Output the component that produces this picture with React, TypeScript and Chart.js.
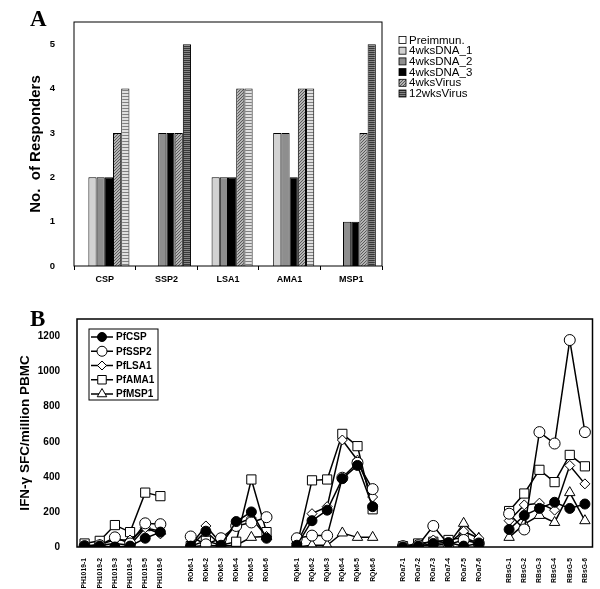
import { useEffect, useRef } from "react"
import { Chart, registerables } from "chart.js"
import { drawPoint } from "chart.js/helpers"

Chart.register(...registerables)
Chart.defaults.font.family = "'Liberation Sans', Arial, sans-serif"
Chart.defaults.color = "#000"

// panel A: number of responders per antigen
const ANTIGENS = ["CSP", "SSP2", "LSA1", "AMA1", "MSP1"]
const PREIMMUN = [0, 0, 0, 0, 0]
const DNA_1 = [2, 0, 2, 3, 0]
const DNA_2 = [2, 3, 2, 3, 1]
const DNA_3 = [2, 3, 2, 2, 1]
const VIRUS_4 = [3, 3, 4, 4, 3]
const VIRUS_12 = [4, 5, 4, 4, 5]

// panel B: IFN-g SFC per volunteer and time point ("" = gap between volunteers)
const TIMEPOINTS = [
	"PH1019-1", "PH1019-2", "PH1019-3", "PH1019-4", "PH1019-5", "PH1019-6", "",
	"ROk6-1", "ROk6-2", "ROk6-3", "ROk6-4", "ROk6-5", "ROk6-6", "",
	"RQk6-1", "RQk6-2", "RQk6-3", "RQk6-4", "RQk6-5", "RQk6-6", "",
	"ROa7-1", "ROa7-2", "ROa7-3", "ROa7-4", "ROa7-5", "ROa7-6", "",
	"RBsG-1", "RBsG-2", "RBsG-3", "RBsG-4", "RBsG-5", "RBsG-6",
]
const PF_CSP = [
	5, 5, 0, 5, 50, 85, null,
	5, 90, 10, 145, 200, 50, null,
	10, 150, 210, 390, 465, 230, null,
	0, 5, 20, 25, 5, 20, null,
	100, 180, 220, 255, 220, 245,
]
const PF_SSP2 = [
	5, 10, 55, 20, 135, 130, null,
	60, 15, 50, 120, 140, 170, null,
	50, 65, 65, 395, 480, 330, null,
	5, 10, 120, 15, 40, 20, null,
	190, 100, 655, 590, 1180, 655,
]
const PF_LSA1 = [
	5, 15, 40, 40, 110, 75, null,
	10, 120, 20, 130, 165, 60, null,
	20, 190, 230, 610, 495, 285, null,
	0, 5, 40, 20, 90, 50, null,
	150, 240, 250, 210, 465, 360,
]
const PF_AMA1 = [
	20, 35, 125, 85, 310, 290, null,
	5, 35, 10, 30, 385, 85, null,
	5, 380, 385, 645, 575, 215, null,
	5, 20, 30, 40, 55, 20, null,
	205, 305, 440, 370, 525, 460,
]
const PF_MSP1 = [
	0, 10, 20, 10, 110, 90, null,
	0, 10, 5, 10, 55, 60, null,
	0, 10, 10, 80, 55, 55, null,
	0, 10, 10, 15, 135, 50, null,
	55, 130, 180, 140, 310, 150,
]

function pattern(bg: string, fg: string, size: number, diagonal: boolean) {
	const c = document.createElement("canvas")
	c.width = size
	c.height = size
	const g = c.getContext("2d")!
	g.fillStyle = bg
	g.fillRect(0, 0, size, size)
	g.strokeStyle = fg
	g.lineWidth = 1
	g.beginPath()
	if (diagonal) {
		g.moveTo(-1, size + 1)
		g.lineTo(size + 1, -1)
	} else {
		g.moveTo(0, 0.5)
		g.lineTo(size, 0.5)
	}
	g.stroke()
	return g.createPattern(c, "repeat")!
}

const frame = {
	id: "frame",
	afterDraw(chart: any, _a: any, o: any) {
		const { ctx, chartArea: a } = chart
		ctx.save()
		ctx.strokeStyle = "#000"
		ctx.lineWidth = o.width ?? 1
		ctx.strokeRect(a.left, a.top, a.right - a.left, a.bottom - a.top)
		ctx.restore()
	},
}

const boxLegend = {
	id: "boxLegend",
	afterDraw(chart: any, _a: any, o: any) {
		const ctx = chart.ctx
		ctx.save()
		ctx.font = o.font
		ctx.textBaseline = "middle"
		chart.data.datasets.forEach((ds: any, i: number) => {
			const y = o.y + i * o.step
			const bg = Array.isArray(ds.backgroundColor)
				? ds.backgroundColor[ds.backgroundColor.length - 1]
				: ds.backgroundColor
			ctx.fillStyle = bg
			ctx.fillRect(o.x, y - 3.5, 7, 7)
			ctx.strokeStyle = "#000"
			ctx.lineWidth = 0.8
			ctx.strokeRect(o.x, y - 3.5, 7, 7)
			ctx.fillStyle = "#000"
			ctx.fillText(ds.label, o.x + 10, y + 0.5)
		})
		ctx.restore()
	},
}

const lineLegend = {
	id: "lineLegend",
	afterDraw(chart: any, _a: any, o: any) {
		const ctx = chart.ctx
		const x = chart.chartArea.left + o.dx
		const y0 = chart.chartArea.top + o.dy
		ctx.save()
		ctx.fillStyle = "#fff"
		ctx.strokeStyle = "#000"
		ctx.lineWidth = 1
		ctx.fillRect(x, y0, o.w, o.h)
		ctx.strokeRect(x, y0, o.w, o.h)
		ctx.font = o.font
		ctx.textBaseline = "middle"
		chart.data.datasets.forEach((ds: any, i: number) => {
			const y = y0 + o.pad + i * o.step
			ctx.lineWidth = 1.5
			ctx.strokeStyle = "#000"
			ctx.beginPath()
			ctx.moveTo(x + 2, y)
			ctx.lineTo(x + 24, y)
			ctx.stroke()
			ctx.fillStyle = ds.pointBackgroundColor
			ctx.lineWidth = 1
			drawPoint(ctx, { pointStyle: ds.pointStyle, radius: ds.pointRadius - 0.5, borderWidth: 1, rotation: 0 } as any, x + 13, y)
			ctx.fillStyle = "#000"
			ctx.fillText(ds.label, x + 27, y + 0.5)
		})
		ctx.restore()
	},
}

function ResponderBars() {
	const canvasRef = useRef<HTMLCanvasElement>(null)

	useEffect(() => {
		if (!canvasRef.current) return
		const hatch = pattern("#b4b4b4", "#5a5a5a", 3, true)
		const lightStripe = pattern("#e0e0e0", "#808080", 3, false)
		const darkStripe = pattern("#858585", "#383838", 2, false)
		const bar = (label: string, data: number[], bg: any) => ({
			label,
			data,
			backgroundColor: bg,
			borderColor: "#000",
			borderWidth: 1,
			categoryPercentage: 0.8,
			barPercentage: 1,
		})
		const chart = new Chart(canvasRef.current, {
			type: "bar",
			data: {
				labels: ANTIGENS,
				datasets: [
					bar("Preimmun.", PREIMMUN, "#ffffff"),
					bar("4wksDNA_1", DNA_1, "#d2d2d2"),
					bar("4wksDNA_2", DNA_2, "#8e8e8e"),
					bar("4wksDNA_3", DNA_3, "#000000"),
					bar("4wksVirus", VIRUS_4, hatch),
					bar("12wksVirus", VIRUS_12, VIRUS_12.map((v) => (v >= 5 ? darkStripe : lightStripe))),
				],
			},
			options: {
				animation: false,
				responsive: true,
				maintainAspectRatio: false,
				layout: { padding: { left: 0, top: 22, right: 218, bottom: 0 } },
				plugins: {
					legend: { display: false },
					tooltip: { enabled: false },
					frame: { width: 1 },
					boxLegend: { x: 399, y: 40, step: 10.7, font: "11.5px 'Liberation Sans', Arial" },
				} as any,
				scales: {
					x: {
						grid: { display: true, drawOnChartArea: false, tickLength: 4, color: "#000" },
						border: { display: false },
						ticks: { font: { size: 9, weight: "bold" }, padding: 4 },
						afterFit: (s: any) => {
							s.height = 34
						},
					},
					y: {
						min: 0,
						max: 5.5,
						grid: { display: false },
						border: { display: false },
						ticks: { stepSize: 1, font: { size: 9.5, weight: "bold" }, padding: 11 },
						afterBuildTicks: (s: any) => {
							s.ticks = s.ticks.filter((t: any) => t.value <= 5)
						},
						title: {
							display: true,
							text: "No.  of Responders",
							font: { size: 15, weight: "bold" },
							padding: { top: 27, bottom: 0 },
						},
						afterFit: (s: any) => {
							s.width = 74
						},
					},
				},
			},
			plugins: [frame, boxLegend],
		})
		return () => chart.destroy()
	}, [])

	return (
		<div style={{ position: "absolute", left: 0, top: 0, width: 600, height: 300 }}>
			<canvas ref={canvasRef} />
		</div>
	)
}

function SfcLines() {
	const canvasRef = useRef<HTMLCanvasElement>(null)

	useEffect(() => {
		if (!canvasRef.current) return
		const line = (label: string, data: (number | null)[], style: string, r: number, fill: string) => ({
			label,
			data,
			borderColor: "#000",
			borderWidth: 1.5,
			pointStyle: style,
			pointRadius: r,
			pointBackgroundColor: fill,
			pointBorderColor: "#000",
			pointBorderWidth: 1,
			spanGaps: false,
			tension: 0,
		})
		const chart = new Chart(canvasRef.current, {
			type: "line",
			data: {
				labels: TIMEPOINTS,
				datasets: [
					line("PfCSP", PF_CSP, "circle", 5, "#000"),
					line("PfSSP2", PF_SSP2, "circle", 5.5, "#fff"),
					line("PfLSA1", PF_LSA1, "rectRot", 5, "#fff"),
					line("PfAMA1", PF_AMA1, "rect", 6.5, "#fff"),
					line("PfMSP1", PF_MSP1, "triangle", 6, "#fff"),
				],
			},
			options: {
				animation: false,
				responsive: true,
				maintainAspectRatio: false,
				layout: { padding: { left: 0, top: 19, right: 7, bottom: 0 } },
				plugins: {
					legend: { display: false },
					tooltip: { enabled: false },
					frame: { width: 1.5 },
					lineLegend: { dx: 12, dy: 10, w: 69, h: 71, pad: 8, step: 14.25, font: "bold 10px 'Liberation Sans', Arial" },
				} as any,
				scales: {
					x: {
						offset: true,
						grid: { display: false },
						border: { display: false },
						ticks: {
							autoSkip: false,
							minRotation: 90,
							maxRotation: 90,
							font: { size: 6.8, weight: "bold" },
							padding: 3,
						},
						afterFit: (s: any) => {
							s.height = 42
						},
					},
					y: {
						min: 0,
						max: 1300,
						grid: { display: false },
						border: { display: false },
						ticks: {
							stepSize: 200,
							font: { size: 10, weight: "bold" },
							padding: 9,
							callback: (v: any) => String(v),
						},
						afterBuildTicks: (s: any) => {
							s.ticks = s.ticks.filter((t: any) => t.value <= 1200)
						},
						title: {
							display: true,
							text: "IFN-γ SFC/million PBMC",
							font: { size: 13.5, weight: "bold" },
							padding: { top: 17, bottom: 0 },
						},
						afterFit: (s: any) => {
							s.width = 77
						},
					},
				},
			},
			plugins: [frame, lineLegend],
		})
		return () => chart.destroy()
	}, [])

	return (
		<div style={{ position: "absolute", left: 0, top: 300, width: 600, height: 289 }}>
			<canvas ref={canvasRef} />
		</div>
	)
}

const panelLetter = {
	position: "absolute" as const,
	left: 30,
	fontFamily: "'Liberation Serif', 'Times New Roman', serif",
	fontWeight: "bold",
	fontSize: 23,
	lineHeight: "23px",
}

export default function App() {
	return (
		<div style={{ position: "absolute", left: 0, top: 0, width: 600, height: 589, background: "#fff" }}>
			<ResponderBars />
			<SfcLines />
			<div style={{ ...panelLetter, top: 7 }}>A</div>
			<div style={{ ...panelLetter, top: 307 }}>B</div>
		</div>
	)
}
